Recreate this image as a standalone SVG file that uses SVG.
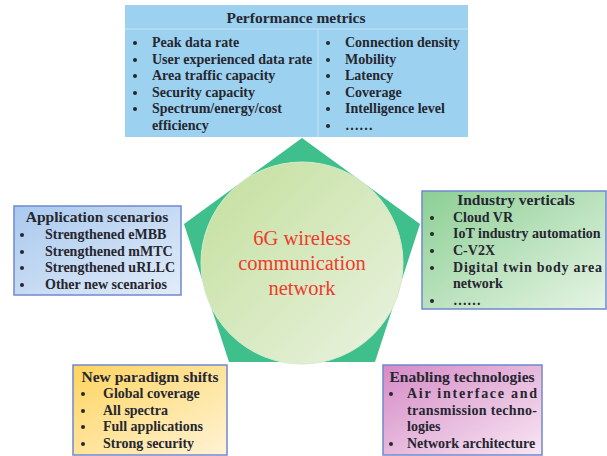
<svg xmlns="http://www.w3.org/2000/svg" width="607" height="456" viewBox="0 0 607 456">
<defs>
<linearGradient id="gCircle" x1="0" y1="0" x2="1" y2="1">
<stop offset="0" stop-color="#c3df9c"/><stop offset="1" stop-color="#eaf3e2"/>
</linearGradient>
<linearGradient id="gBlue" x1="0" y1="0" x2="1" y2="1">
<stop offset="0" stop-color="#a9c9ee"/><stop offset="1" stop-color="#e2ecf8"/>
</linearGradient>
<linearGradient id="gGreen" x1="0" y1="0" x2="1" y2="1">
<stop offset="0" stop-color="#8ccf94"/><stop offset="1" stop-color="#e6f4e4"/>
</linearGradient>
<linearGradient id="gYellow" x1="0" y1="0" x2="1" y2="1">
<stop offset="0" stop-color="#ffd45e"/><stop offset="1" stop-color="#fff3d6"/>
</linearGradient>
<linearGradient id="gPink" x1="0" y1="0" x2="1" y2="1">
<stop offset="0" stop-color="#d58bc6"/><stop offset="1" stop-color="#f8e6f3"/>
</linearGradient>
<style>
.t{font-family:"Liberation Serif","Times New Roman",serif;font-weight:bold;font-size:14px;fill:#262630}
.h{font-size:15.5px}
.b{fill:#262630}
.box{stroke:#7088cf;stroke-width:1.5}
.c{font-family:"Liberation Serif","Times New Roman",serif;font-size:20.5px;fill:#f03a2c;text-anchor:middle}
</style>
</defs>

<g id="hub">
<polygon points="302,138 420,224 375,362 229,362 184,224" fill="#3fbf8c"/>
<circle cx="302" cy="263" r="101" fill="url(#gCircle)" stroke="#d4eccd" stroke-width="1"/>
<text class="c" x="302" y="245">6G wireless</text>
<text class="c" x="302" y="270">communication</text>
<text class="c" x="302" y="295">network</text>
</g>

<g id="performance">
<rect x="125" y="5" width="343" height="132" fill="#9cd2ef"/>
<line x1="125" y1="29" x2="468" y2="29" stroke="#c4e4f6" stroke-width="1"/>
<line x1="318" y1="29" x2="318" y2="137" stroke="#c4e4f6" stroke-width="1"/>
<text class="t h" x="296" y="23" text-anchor="middle">Performance metrics</text>
<g class="b"><circle cx="135" cy="43" r="2"/><circle cx="135" cy="60" r="2"/><circle cx="135" cy="76" r="2"/><circle cx="135" cy="93" r="2"/><circle cx="135" cy="109" r="2"/>
<circle cx="328" cy="43" r="2"/><circle cx="328" cy="60" r="2"/><circle cx="328" cy="76" r="2"/><circle cx="328" cy="93" r="2"/><circle cx="328" cy="109" r="2"/><circle cx="328" cy="126" r="2"/></g>
<text class="t" x="152" y="47">Peak data rate</text>
<text class="t" x="152" y="64">User experienced data rate</text>
<text class="t" x="152" y="80">Area traffic capacity</text>
<text class="t" x="152" y="97">Security capacity</text>
<text class="t" x="152" y="113">Spectrum/energy/cost</text>
<text class="t" x="152" y="130">efficiency</text>
<text class="t" x="345" y="47">Connection density</text>
<text class="t" x="345" y="64">Mobility</text>
<text class="t" x="345" y="80">Latency</text>
<text class="t" x="345" y="97">Coverage</text>
<text class="t" x="345" y="113">Intelligence level</text>
<text class="t" x="345" y="130">……</text>
</g>

<g id="application">
<rect class="box" x="14" y="206" width="167" height="89" fill="url(#gBlue)"/>
<text class="t h" x="97" y="222" text-anchor="middle">Application scenarios</text>
<g class="b"><circle cx="22" cy="235" r="2"/><circle cx="22" cy="252" r="2"/><circle cx="22" cy="268" r="2"/><circle cx="22" cy="285" r="2"/></g>
<text class="t" x="45" y="239">Strengthened eMBB</text>
<text class="t" x="45" y="256">Strengthened mMTC</text>
<text class="t" x="45" y="272">Strengthened uRLLC</text>
<text class="t" x="45" y="289">Other new scenarios</text>
</g>

<g id="industry">
<rect class="box" x="422" y="191" width="184" height="118" fill="url(#gGreen)"/>
<text class="t h" x="516" y="205" text-anchor="middle">Industry verticals</text>
<g class="b"><circle cx="432" cy="218" r="2"/><circle cx="432" cy="234" r="2"/><circle cx="432" cy="251" r="2"/><circle cx="432" cy="268" r="2"/><circle cx="432" cy="301" r="2"/></g>
<text class="t" x="453" y="222">Cloud VR</text>
<text class="t" x="453" y="238">IoT industry automation</text>
<text class="t" x="453" y="255">C-V2X</text>
<text class="t" x="453" y="272" textLength="149" lengthAdjust="spacing">Digital twin body area</text>
<text class="t" x="453" y="288">network</text>
<text class="t" x="453" y="305">……</text>
</g>

<g id="paradigm">
<rect class="box" x="73" y="365" width="154" height="90" fill="url(#gYellow)"/>
<text class="t h" x="150" y="382" text-anchor="middle">New paradigm shifts</text>
<g class="b"><circle cx="83" cy="394" r="2"/><circle cx="83" cy="411" r="2"/><circle cx="83" cy="427" r="2"/><circle cx="83" cy="444" r="2"/></g>
<text class="t" x="103" y="398">Global coverage</text>
<text class="t" x="103" y="415">All spectra</text>
<text class="t" x="103" y="431">Full applications</text>
<text class="t" x="103" y="448">Strong security</text>
</g>

<g id="enabling">
<rect class="box" x="383" y="365" width="159" height="90" fill="url(#gPink)"/>
<text class="t h" x="462" y="382" text-anchor="middle">Enabling technologies</text>
<g class="b"><circle cx="391" cy="394" r="2"/><circle cx="391" cy="444" r="2"/></g>
<text class="t" x="407" y="398" textLength="130" lengthAdjust="spacing">Air interface and</text>
<text class="t" x="407" y="415" textLength="130" lengthAdjust="spacing">transmission techno-</text>
<text class="t" x="407" y="431">logies</text>
<text class="t" x="407" y="448">Network architecture</text>
</g>

<g id="connectors"></g>
</svg>
